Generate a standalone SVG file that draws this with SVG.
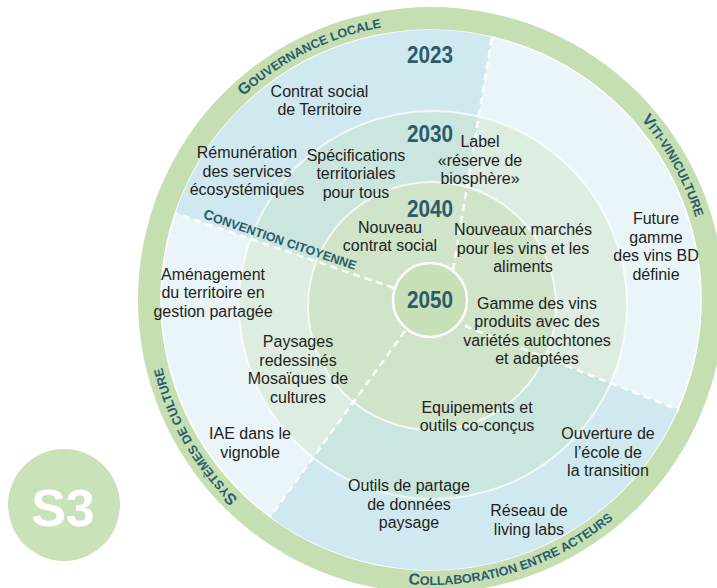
<svg xmlns="http://www.w3.org/2000/svg" xmlns:xlink="http://www.w3.org/1999/xlink" width="717" height="588" viewBox="0 0 717 588">
<style>
.t{font-family:"Liberation Sans",Arial,sans-serif;font-size:16px;fill:#231f20;text-anchor:middle}
.y{font-family:"Liberation Sans",Arial,sans-serif;font-weight:bold;font-size:23px;fill:#2c5b6b;text-anchor:middle}
.lab{font-family:"Liberation Sans",Arial,sans-serif;font-weight:bold;font-size:12.5px;fill:#2c5b6b}
.big{font-size:16px}
.dash{stroke:#fff;stroke-width:2.5;stroke-dasharray:7 5;fill:none}
.ringline{stroke:#fff;stroke-opacity:0.75;stroke-width:2}
</style>
<defs>
<path id="wTop" d="M430,300 L-42,139 L-60,-250 L540,-250 L453,270 Z"/>
<path id="wBot" d="M430,300 L467,327 L900,496 L900,900 L-7,900 L403,333 Z"/>
<clipPath id="c23"><circle cx="431" cy="300" r="270"/></clipPath>
<clipPath id="c30"><circle cx="433" cy="305" r="194"/></clipPath>
<path id="arcCW" d="M431,577 A277,277 0 1 1 431,23 A277,277 0 1 1 431,577"/>
<path id="arcCCW" d="M146,300 A285,285 0 0 0 716,300"/>
</defs>

<g id="badge">
<circle cx="64" cy="505" r="56" fill="#c9e2ba"/>
<text x="63" y="526" font-family="Liberation Sans,Arial,sans-serif" font-weight="bold" font-size="52" fill="#fff" text-anchor="middle">S3</text>
</g>

<g id="rings">
<circle cx="431" cy="300" r="293" fill="#c5dfb3"/>
<circle cx="431" cy="300" r="270" fill="#e9f5f8" stroke="#fff" stroke-width="1.5"/>
<g clip-path="url(#c23)" fill="#d0e9f0">
<use xlink:href="#wTop"/>
<use xlink:href="#wBot"/>
</g>
<circle cx="433" cy="305" r="194" fill="#deede2"/>
<g clip-path="url(#c30)" fill="#cbe5df">
<use xlink:href="#wTop"/>
<use xlink:href="#wBot"/>
</g>
<circle cx="433" cy="305" r="194" fill="none" class="ringline"/>
<circle cx="432" cy="306" r="124" fill="#cfe4c9" class="ringline"/>
</g>

<g id="connectors">
<line class="dash" x1="453" y1="270" x2="492" y2="37"/>
<line class="dash" x1="394" y1="288" x2="175" y2="213"/>
<line class="dash" x1="405" y1="331" x2="270" y2="517"/>
<line class="dash" x1="465" y1="326" x2="679" y2="410"/>
</g>

<g id="center">
<circle cx="430" cy="300" r="37" fill="#c7e0b8" stroke="#fff" stroke-width="2.5"/>
</g>

<g id="ring-labels">
<text class="lab"><textPath xlink:href="#arcCW" startOffset="742" text-anchor="middle"><tspan class="big">G</tspan>OUVERNANCE LOCALE</textPath></text>
<text class="lab"><textPath xlink:href="#arcCW" startOffset="1165" text-anchor="middle"><tspan class="big">V</tspan>ITI-VINICULTURE</textPath></text>
<text class="lab"><textPath xlink:href="#arcCW" startOffset="290" text-anchor="middle"><tspan class="big">S</tspan>YSTÈMES DE CULTURE</textPath></text>
<text class="lab" font-size="12"><textPath xlink:href="#arcCCW" startOffset="535" text-anchor="middle"><tspan class="big">C</tspan>OLLABORATION ENTRE ACTEURS</textPath></text>
<text class="lab" font-weight="normal" font-size="10.5" text-anchor="middle" transform="translate(278.5,244) rotate(18.8)"><tspan font-size="14">C</tspan>ONVENTION CITOYENNE</text>
</g>

<g id="years" transform="scale(0.9,1)">
<text class="y" x="477.8" y="63">2023</text>
<text class="y" x="477.8" y="142">2030</text>
<text class="y" x="477.8" y="217">2040</text>
<text class="y" x="477.8" y="308">2050</text>
</g>

<g id="gouvernance">
<text class="t"><tspan x="319.5" y="96.5">Contrat social</tspan><tspan x="319.5" y="115">de Territoire</tspan></text>
<text class="t"><tspan x="247" y="158">Rémunération</tspan><tspan x="247" y="176.5">des services</tspan><tspan x="247" y="195">écosystémiques</tspan></text>
<text class="t"><tspan x="356" y="160.5">Spécifications</tspan><tspan x="356" y="179">territoriales</tspan><tspan x="356" y="197.5">pour tous</tspan></text>
<text class="t"><tspan x="390" y="233">Nouveau</tspan><tspan x="390" y="251">contrat social</tspan></text>
</g>
<g id="viti">
<text class="t"><tspan x="480" y="147">Label</tspan><tspan x="480" y="165.5">«réserve de</tspan><tspan x="480" y="184">biosphère»</tspan></text>
<text class="t"><tspan x="656" y="224">Future</tspan><tspan x="656" y="242.5">gamme</tspan><tspan x="656" y="261">des vins BD</tspan><tspan x="656" y="279.5">définie</tspan></text>
<text class="t"><tspan x="523" y="235">Nouveaux marchés</tspan><tspan x="523" y="253.5">pour les vins et les</tspan><tspan x="523" y="272">aliments</tspan></text>
<text class="t"><tspan x="537" y="308.5">Gamme des vins</tspan><tspan x="537" y="327">produits avec des</tspan><tspan x="537" y="345.5">variétés autochtones</tspan><tspan x="537" y="364">et adaptées</tspan></text>
</g>
<g id="systemes">
<text class="t"><tspan x="213" y="279.5">Aménagement</tspan><tspan x="213" y="298">du territoire en</tspan><tspan x="213" y="316.5">gestion partagée</tspan></text>
<text class="t"><tspan x="298" y="347">Paysages</tspan><tspan x="298" y="365.5">redessinés</tspan><tspan x="298" y="384">Mosaïques de</tspan><tspan x="298" y="402.5">cultures</tspan></text>
<text class="t"><tspan x="250" y="439">IAE dans le</tspan><tspan x="250" y="457.5">vignoble</tspan></text>
</g>
<g id="collaboration">
<text class="t"><tspan x="477" y="412.5">Equipements et</tspan><tspan x="477" y="431">outils co-conçus</tspan></text>
<text class="t"><tspan x="608" y="439">Ouverture de</tspan><tspan x="608" y="457.5">l’école de</tspan><tspan x="608" y="476">la transition</tspan></text>
<text class="t"><tspan x="409" y="491">Outils de partage</tspan><tspan x="409" y="509.5">de données</tspan><tspan x="409" y="528">paysage</tspan></text>
<text class="t"><tspan x="529" y="516">Réseau de</tspan><tspan x="529" y="534.5">living labs</tspan></text>
</g>
</svg>
